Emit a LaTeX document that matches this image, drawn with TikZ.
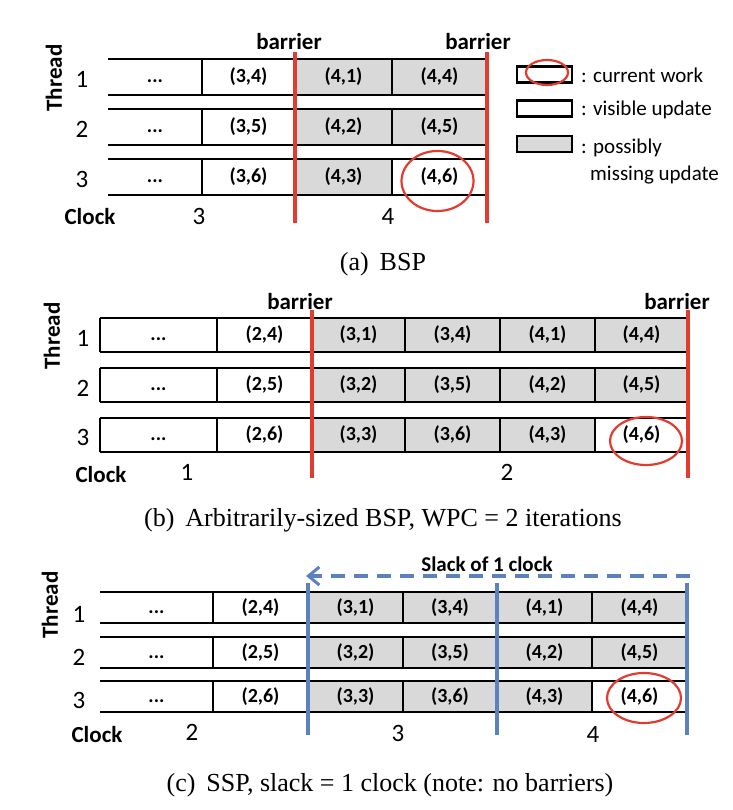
\documentclass[tikz,border=0pt]{standalone}
\usepackage{fontspec}
\setmainfont{Carlito}
\newfontfamily\capfont{Liberation Serif}
\usetikzlibrary{arrows.meta}
\definecolor{barred}{RGB}{226,60,48}
\definecolor{sspblue}{RGB}{92,130,190}
\definecolor{cellgray}{RGB}{217,217,217}
\newcommand\mycell[7]{\node[cellbox,fill=#6,minimum width={(#3)-(#2)},minimum height=#5] (#1) at ({((#2)+(#3))/2},{(#4)+(#5)/2}) {#7};}
\tikzset{
  cellbox/.style={inner sep=0pt,outer sep=0pt,text height=14.5pt,text depth=3.5pt,font=\bfseries\fontsize{20}{20}\selectfont},
  rowline/.style={line width=2.6pt,black},
  barline/.style={line width=3.2pt,barred},
  sspline/.style={line width=3.2pt,sspblue},
  ring/.style={line width=2.2pt,barred},
  lab/.style={inner sep=0pt,font=\bfseries\fontsize{23}{23}\selectfont},
  num/.style={inner sep=0pt,font=\fontsize{25}{25}\selectfont},
  legtext/.style={inner sep=0pt,anchor=west,font=\fontsize{21}{21}\selectfont},
  legbox/.style={draw,line width=2.6pt,fill=white,minimum width=55pt,minimum height=16pt,inner sep=0pt},
  capt/.style={inner sep=0pt,font=\capfont\fontsize{26}{26}\selectfont}
}
\begin{document}
\begin{tikzpicture}[x=1pt,y=-1pt]
\useasboundingbox (0,0) rectangle (732,810);
%%%%%%%%%%%%%%%% (a) BSP
\mycell{a11}{108}{202}{59}{36}{white}{...}
\mycell{a12}{202}{295}{59}{36}{white}{(3,4)}
\mycell{a13}{295}{392}{59}{36}{cellgray}{(4,1)}
\mycell{a14}{392}{487}{59}{36}{cellgray}{(4,4)}
\mycell{a21}{108}{202}{109}{36}{white}{...}
\mycell{a22}{202}{295}{109}{36}{white}{(3,5)}
\mycell{a23}{295}{392}{109}{36}{cellgray}{(4,2)}
\mycell{a24}{392}{487}{109}{36}{cellgray}{(4,5)}
\mycell{a31}{108}{202}{159}{36}{white}{...}
\mycell{a32}{202}{295}{159}{36}{white}{(3,6)}
\mycell{a33}{295}{392}{159}{36}{cellgray}{(4,3)}
\mycell{a34}{392}{487}{159}{36}{white}{(4,6)}
\foreach \r in {1,2,3}{
  \draw[rowline] (a\r1.north west) -- (a\r4.north east);
  \draw[rowline] (a\r1.south west) -- (a\r4.south east);
  \draw[rowline] (a\r2.north west) -- (a\r2.south west);
  \draw[rowline] (a\r4.north west) -- (a\r4.south west);
}
\draw[barline] (295,52) -- (295,223);
\draw[barline] (487,52) -- (487,223);
\draw[ring] (437.5,181) ellipse [x radius=36, y radius=30];
\node[lab] (abar1) at (289,42) {barrier};
\node[lab] (abar2) at (478,42) {barrier};
\node[lab,rotate=90] (athr) at (54,78) {Thread};
\node[num] (at1) at (82,79) {1};
\node[num] (at2) at (82,129) {2};
\node[num] (at3) at (82,179) {3};
\node[lab] (aclk) at (90,217) {Clock};
\node[num] (ac3) at (199,216) {3};
\node[num] (ac4) at (388,216) {4};
% legend
\node[legbox] (lcur) at (544.5,74.5) {};
\draw[ring] (547,72.5) ellipse [x radius=21, y radius=12.5];
\node[legtext] (tcur) at (581,75) {: current work};
\node[legbox] (lvis) at (544.5,108.5) {};
\node[legtext] (tvis) at (581,110) {: visible update};
\node[legbox,fill=cellgray] (lmis) at (544.5,144) {};
\node[legtext] (tmis1) at (581,148) {: possibly};
\node[legtext] (tmis2) at (590,175) {missing update};
\node[capt] (capa) at (383,264) {(a)\hspace{0.42em}BSP};
%%%%%%%%%%%%%%%% (b) Arbitrarily-sized BSP
\mycell{b11}{100}{217}{318}{34}{white}{...}
\mycell{b12}{217}{312}{318}{34}{white}{(2,4)}
\mycell{b13}{312}{405}{318}{34}{cellgray}{(3,1)}
\mycell{b14}{405}{500}{318}{34}{cellgray}{(3,4)}
\mycell{b15}{500}{595}{318}{34}{cellgray}{(4,1)}
\mycell{b16}{595}{688}{318}{34}{cellgray}{(4,4)}
\mycell{b21}{100}{217}{368}{34}{white}{...}
\mycell{b22}{217}{312}{368}{34}{white}{(2,5)}
\mycell{b23}{312}{405}{368}{34}{cellgray}{(3,2)}
\mycell{b24}{405}{500}{368}{34}{cellgray}{(3,5)}
\mycell{b25}{500}{595}{368}{34}{cellgray}{(4,2)}
\mycell{b26}{595}{688}{368}{34}{cellgray}{(4,5)}
\mycell{b31}{100}{217}{418}{34}{white}{...}
\mycell{b32}{217}{312}{418}{34}{white}{(2,6)}
\mycell{b33}{312}{405}{418}{34}{cellgray}{(3,3)}
\mycell{b34}{405}{500}{418}{34}{cellgray}{(3,6)}
\mycell{b35}{500}{595}{418}{34}{cellgray}{(4,3)}
\mycell{b36}{595}{688}{418}{34}{white}{(4,6)}
\foreach \r in {1,2,3}{
  \draw[rowline] (b\r1.north west) -- (b\r6.north east);
  \draw[rowline] (b\r1.south west) -- (b\r6.south east);
  \draw[rowline] (b\r1.north west) -- (b\r1.south west);
  \draw[rowline] (b\r2.north west) -- (b\r2.south west);
  \draw[rowline] (b\r4.north west) -- (b\r4.south west);
  \draw[rowline] (b\r5.north west) -- (b\r5.south west);
  \draw[rowline] (b\r6.north west) -- (b\r6.south west);
}
\draw[barline] (312,310) -- (312,478);
\draw[barline] (688,310) -- (688,478);
\draw[ring] (646,441) ellipse [x radius=36, y radius=24];
\node[lab] (bbar1) at (300,302) {barrier};
\node[lab] (bbar2) at (677,302) {barrier};
\node[lab,rotate=90] (bthr) at (52,336) {Thread};
\node[num] (bt1) at (83,338) {1};
\node[num] (bt2) at (83,388) {2};
\node[num] (bt3) at (83,437) {3};
\node[lab] (bclk) at (101,475) {Clock};
\node[num] (bc1) at (187,472) {1};
\node[num] (bc2) at (507,472) {2};
\node[capt] (capb) at (383,520) {(b)\hspace{0.42em}Arbitrarily-sized BSP, WPC = 2 iterations};
%%%%%%%%%%%%%%%% (c) SSP
\mycell{c11}{100}{213}{592}{31}{white}{...}
\mycell{c12}{213}{308}{592}{31}{white}{(2,4)}
\mycell{c13}{308}{403}{592}{31}{cellgray}{(3,1)}
\mycell{c14}{403}{497}{592}{31}{cellgray}{(3,4)}
\mycell{c15}{497}{592}{592}{31}{cellgray}{(4,1)}
\mycell{c16}{592}{687}{592}{31}{cellgray}{(4,4)}
\mycell{c21}{100}{213}{637}{31}{white}{...}
\mycell{c22}{213}{308}{637}{31}{white}{(2,5)}
\mycell{c23}{308}{403}{637}{31}{cellgray}{(3,2)}
\mycell{c24}{403}{497}{637}{31}{cellgray}{(3,5)}
\mycell{c25}{497}{592}{637}{31}{cellgray}{(4,2)}
\mycell{c26}{592}{687}{637}{31}{cellgray}{(4,5)}
\mycell{c31}{100}{213}{681}{31}{white}{...}
\mycell{c32}{213}{308}{681}{31}{white}{(2,6)}
\mycell{c33}{308}{403}{681}{31}{cellgray}{(3,3)}
\mycell{c34}{403}{497}{681}{31}{cellgray}{(3,6)}
\mycell{c35}{497}{592}{681}{31}{cellgray}{(4,3)}
\mycell{c36}{592}{687}{681}{31}{white}{(4,6)}
\foreach \r in {1,2,3}{
  \draw[rowline] (c\r1.north west) -- (c\r6.north east);
  \draw[rowline] (c\r1.south west) -- (c\r6.south east);
  \draw[rowline] (c\r2.north west) -- (c\r2.south west);
  \draw[rowline] (c\r4.north west) -- (c\r4.south west);
  \draw[rowline] (c\r6.north west) -- (c\r6.south west);
}
\draw[sspline] (308,583) -- (308,735);
\draw[sspline] (497,583) -- (497,735);
\draw[sspline] (687,583) -- (687,735);
\coordinate (slackR) at (690,576);
\coordinate (slackL) at (306,576);
\draw[sspline,dash pattern=on 14pt off 9pt,-{Straight Barb[length=11pt,width=18pt,line width=3pt]}] (slackR) -- (slackL);
\node[lab,font=\bfseries\fontsize{21}{21}\selectfont] (slack) at (487,564) {Slack of 1 clock};
\draw[ring] (644,698) ellipse [x radius=37, y radius=25];
\node[lab,rotate=90] (cthr) at (50,605) {Thread};
\node[num] (ct1) at (79,614) {1};
\node[num] (ct2) at (79,657) {2};
\node[num] (ct3) at (79,700) {3};
\node[lab] (cclk) at (97,735) {Clock};
\node[num] (cc2) at (192,732) {2};
\node[num] (cc3) at (398,733) {3};
\node[num] (cc4) at (593,734) {4};
\node[capt] (capc) at (390,785) {(c)\hspace{0.42em}SSP, slack = 1 clock (note: no barriers)};
\end{tikzpicture}
\end{document}
